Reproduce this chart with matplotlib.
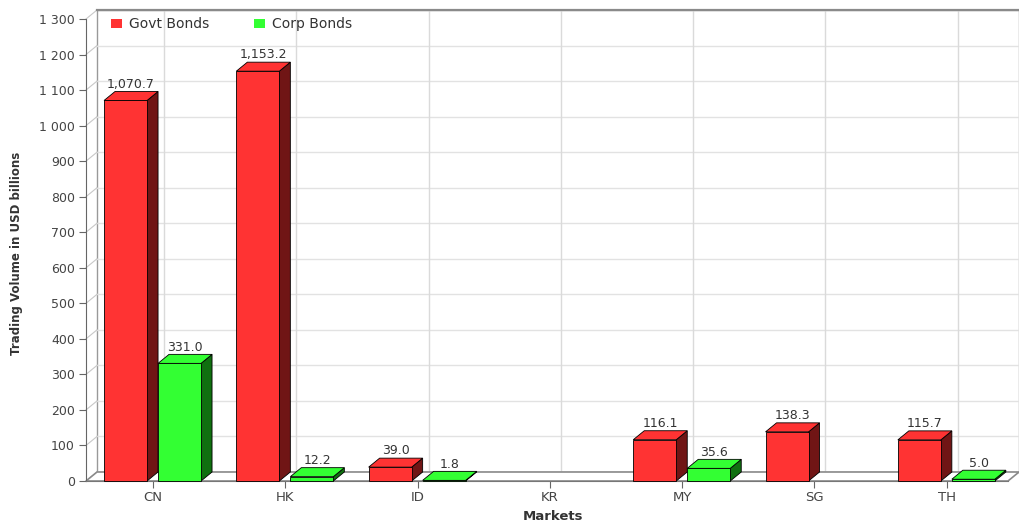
import numpy as np
import matplotlib
matplotlib.use("Agg")
import matplotlib.pyplot as plt
from matplotlib.patches import Rectangle, Polygon, Patch

# data (nan = no bar)
markets = ["CN", "HK", "ID", "KR", "MY", "SG", "TH"]
govt = [1070.7, 1153.2, 39.0, np.nan, 116.1, 138.3, 115.7]
corp = [331.0, 12.2, 1.8, np.nan, 35.6, np.nan, 5.0]
yticks = list(range(0, 1301, 100))

red, red_side = "#ff3333", "#701515"
green, green_side = "#33ff33", "#107010"

fig = plt.figure(figsize=(10.19, 5.24), dpi=100)
W, H = 1019, 524
ax = fig.add_axes([86 / W, 1 - 481 / H, (1008 - 86) / W, (481 - 19) / H])
xmin, xmax = -0.5064, 6.4626
ax.set_xlim(xmin, xmax)
ax.set_ylim(0, 1300)

# 3d offset in pixels -> data units
DX, DY = 11, 9
ax_w = ax.get_position().width * W
ax_h = ax.get_position().height * H
dxd = DX * (xmax - xmin) / ax_w
dyd = DY * 1300 / ax_h

# back wall
ax.add_patch(Polygon([(xmin + dxd, dyd), (xmax + dxd, dyd), (xmax + dxd, 1300 + dyd),
                      (xmin + dxd, 1300 + dyd)], closed=True, facecolor="white",
                     edgecolor="#999999", lw=1.0, zorder=0, clip_on=False))
for t in yticks[1:-1]:
    ax.plot([xmin + dxd, xmax + dxd], [t + dyd, t + dyd], color="#e2e2e2", lw=1, zorder=1, clip_on=False)
for t in yticks:
    ax.plot([xmin, xmin + dxd], [t, t + dyd], color="#c8c8c8", lw=0.8, zorder=1, clip_on=False)
for i in range(len(markets)):
    ax.plot([i + dxd, i + dxd], [dyd, 1300 + dyd], color="#dadada", lw=1, zorder=1, clip_on=False)
ax.plot([xmin + dxd, xmax + dxd], [1300 + dyd, 1300 + dyd], color="#8a8a8a", lw=1.6, zorder=1, clip_on=False)

# floor
ax.add_patch(Polygon([(xmin, 0), (xmax, 0), (xmax + dxd, dyd), (xmin + dxd, dyd)], closed=True,
                     facecolor="white", edgecolor="#8a8a8a", lw=1.2, zorder=1, clip_on=False))

bar_w = 0.325
off0 = -0.37


def bar3d(x0, v, face, side):
    ax.add_patch(Polygon([(x0 + bar_w, 0), (x0 + bar_w + dxd, dyd), (x0 + bar_w + dxd, v + dyd),
                          (x0 + bar_w, v)], closed=True, facecolor=side, edgecolor="black",
                         lw=0.6, zorder=3, clip_on=False))
    ax.add_patch(Polygon([(x0, v), (x0 + bar_w, v), (x0 + bar_w + dxd, v + dyd), (x0 + dxd, v + dyd)],
                         closed=True, facecolor=face, edgecolor="black", lw=0.6, zorder=3, clip_on=False))
    ax.add_patch(Rectangle((x0, 0), bar_w, v, facecolor=face, edgecolor="black", lw=0.6,
                           zorder=4, clip_on=False))
    ax.annotate(f"{v:,.1f}", (x0 + (bar_w + dxd) / 2, v + dyd), xytext=(0, 0.5),
                textcoords="offset points", ha="center", va="bottom", fontsize=9,
                color="#333333", zorder=5)


for i in range(len(markets)):
    if not np.isnan(govt[i]):
        bar3d(i + off0, govt[i], red, red_side)
    if not np.isnan(corp[i]):
        bar3d(i + off0 + bar_w + dxd, corp[i], green, green_side)

# axes
for s in ["top", "right"]:
    ax.spines[s].set_visible(False)
ax.spines["left"].set_color("#666666")
ax.spines["bottom"].set_color("#777777")
ax.spines["left"].set_zorder(2)
ax.set_yticks(yticks)
ax.set_yticklabels([f"{t:,}".replace(",", " ") for t in yticks])
ax.set_xticks(range(len(markets)))
ax.set_xticklabels(markets)
ax.tick_params(axis="both", direction="out", length=5, color="#666666",
               labelsize=9, labelcolor="#444444")
ax.tick_params(axis="x", pad=2.5, labelsize=9.5)
ax.tick_params(axis="y", pad=3)
ax.patch.set_visible(False)

fig.text(17 / W, 1 - 253 / H, "Trading Volume in USD billions", rotation=90, ha="center",
         va="center", fontsize=8.5, fontweight="bold", color="#333333")
fig.text(553 / W, 1 - 516 / H, "Markets", ha="center", va="center", fontsize=9.5,
         fontweight="bold", color="#333333")

handles = [Patch(facecolor=red, edgecolor="none"), Patch(facecolor=green, edgecolor="none")]
fig.legend(handles, ["Govt Bonds", "Corp Bonds"], loc="center left",
           bbox_to_anchor=(111 / W, 1 - 24 / H), ncol=2, frameon=False, fontsize=10,
           handlelength=0.8, handleheight=0.6, handletextpad=0.5, columnspacing=3.2,
           borderpad=0, borderaxespad=0, labelcolor="#333333")

fig.savefig("out.png", dpi=100)
